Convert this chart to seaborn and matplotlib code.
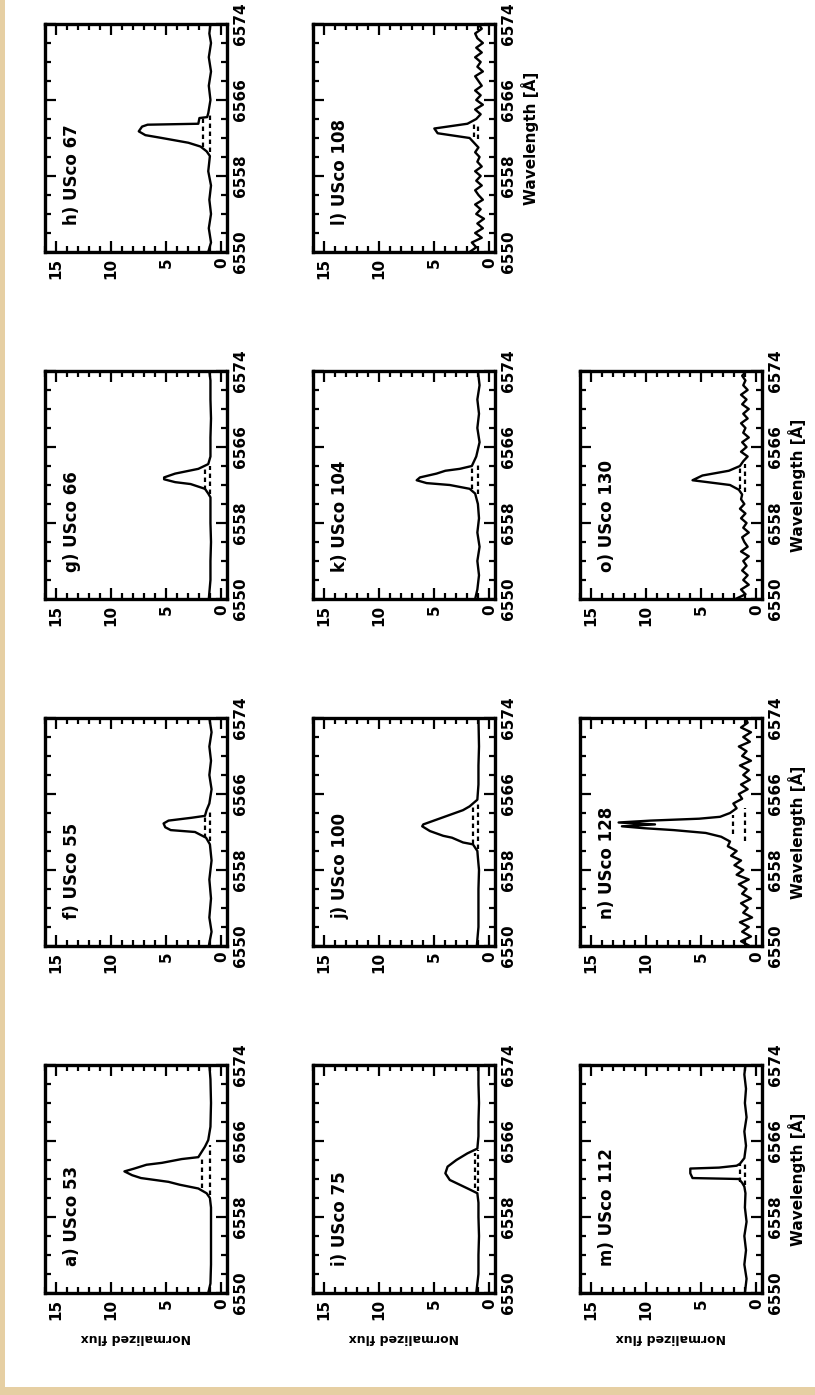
import numpy as np
import pandas as pd
import matplotlib
matplotlib.use("Agg")
import matplotlib.pyplot as plt
import seaborn as sns
from matplotlib.ticker import MultipleLocator, FixedLocator
from matplotlib.patches import Rectangle

sns.set_style("white")
plt.rcParams["font.family"] = ["DejaVu Sans"]
plt.rcParams["text.color"] = "black"
plt.rcParams["axes.labelcolor"] = "black"
plt.rcParams["xtick.color"] = "black"
plt.rcParams["ytick.color"] = "black"

# ---------------- data ----------------
wl_ticks = [6550, 6558, 6566, 6574]
flux_ticks = [0, 5, 10, 15]

labels = {
    "a": "a) USco 53", "f": "f) USco 55", "g": "g) USco 66", "h": "h) USco 67",
    "i": "i) USco 75", "j": "j) USco 100", "k": "k) USco 104", "l": "l) USco 108",
    "m": "m) USco 112", "n": "n) USco 128", "o": "o) USco 130",
}

wl_a = [6550.0, 6551.0, 6553.0, 6556.0, 6559.0, 6560.0, 6560.5, 6561.0, 6561.4, 6561.7, 6562.1, 6562.4,
        6562.8, 6563.1, 6563.5, 6563.7, 6564.1, 6564.3, 6565.4, 6566.1, 6567.5, 6570.0, 6572.5, 6574.0]
fl_a = [1.2, 1.0, 0.95, 0.95, 0.95, 1.05, 1.35, 2.1, 3.8, 4.8, 7.3, 8.1,
        8.8, 7.9, 6.8, 5.4, 3.6, 2.1, 1.5, 1.2, 1.0, 0.95, 1.0, 1.1]

wl_f = [6550.0, 6551.5, 6553.0, 6555.0, 6557.0, 6559.0, 6560.7, 6561.4, 6562.0, 6562.2, 6562.5, 6562.9,
        6563.2, 6563.5, 6563.7, 6564.3, 6565.0, 6566.5, 6568.0, 6569.5, 6571.0, 6572.5, 6574.0]
fl_f = [1.15, 0.9, 1.1, 0.95, 1.1, 0.9, 1.05, 1.4, 2.4, 4.6, 5.1, 5.25,
        4.8, 2.7, 1.5, 1.35, 1.1, 0.9, 1.1, 0.95, 1.1, 0.9, 1.1]

wl_g = [6550.0, 6552.0, 6554.0, 6556.0, 6558.0, 6560.0, 6560.7, 6561.1, 6561.6, 6562.1, 6562.3,
        6562.6, 6562.8, 6563.2, 6563.7, 6564.2, 6565.0, 6567.0, 6569.0, 6571.0, 6573.0, 6574.0]
fl_g = [1.15, 1.0, 1.0, 0.95, 1.0, 1.0, 1.0, 1.2, 1.5, 2.8, 4.2,
        5.2, 5.2, 4.2, 2.1, 1.2, 1.0, 1.0, 0.95, 1.0, 1.0, 1.1]

wl_h = [6550.0, 6551.0, 6552.5, 6554.0, 6555.5, 6557.0, 6558.5, 6560.1, 6560.6, 6561.1, 6561.5,
        6562.0, 6562.3, 6562.7, 6563.2, 6563.4, 6563.5, 6564.1, 6564.2, 6564.6, 6566.0, 6567.5,
        6569.0, 6570.5, 6572.0, 6573.0, 6574.0]
fl_h = [1.2, 0.95, 1.15, 0.95, 1.1, 0.95, 1.2, 1.05, 1.35, 1.9, 3.0,
        5.4, 6.9, 7.5, 7.2, 6.7, 2.1, 2.0, 1.3, 1.2, 1.0, 1.15,
        0.95, 1.15, 0.95, 1.1, 1.0]

wl_i = [6550.0, 6552.0, 6554.0, 6556.0, 6558.0, 6559.5, 6560.5, 6560.9, 6561.4, 6561.9,
        6562.6, 6563.3, 6564.0, 6564.7, 6565.2, 6566.5, 6568.0, 6570.0, 6572.0, 6574.0]
fl_i = [1.2, 1.0, 1.0, 0.95, 1.0, 1.0, 1.1, 1.8, 2.7, 3.6,
        4.0, 3.8, 3.0, 2.0, 1.1, 1.0, 1.0, 0.95, 1.0, 1.0]

wl_j = [6550.0, 6552.0, 6554.0, 6556.0, 6558.0, 6559.3, 6560.0, 6560.7, 6560.9, 6561.4, 6561.6,
        6562.1, 6562.6, 6562.8, 6563.3, 6563.8, 6564.3, 6564.7, 6565.4, 6567.0, 6569.0, 6571.0, 6574.0]
fl_j = [1.15, 1.0, 1.0, 1.0, 0.95, 1.05, 1.1, 1.5, 2.4, 3.4, 4.2,
        5.4, 6.1, 6.0, 4.8, 3.6, 2.4, 1.8, 1.1, 1.0, 1.0, 0.95, 1.0]

wl_k = [6550.0, 6551.0, 6552.5, 6554.0, 6555.5, 6557.0, 6558.5, 6560.0, 6561.1, 6561.6, 6562.0,
        6562.2, 6562.5, 6562.8, 6563.2, 6563.5, 6563.7, 6564.0, 6565.0, 6566.5, 6568.0, 6569.5,
        6571.0, 6572.5, 6574.0]
fl_k = [1.3, 1.1, 0.95, 1.1, 0.9, 1.1, 0.95, 1.05, 1.3, 1.8, 3.6,
        5.7, 6.6, 6.3, 4.8, 4.0, 2.7, 1.6, 1.2, 0.9, 1.1, 0.95,
        1.1, 0.9, 1.05]

wl_m = [6550.0, 6551.5, 6553.0, 6554.5, 6556.0, 6557.5, 6559.0, 6560.5, 6561.2, 6561.6, 6562.0,
        6562.1, 6562.6, 6563.1, 6563.2, 6563.4, 6563.6, 6564.2, 6565.5, 6567.0, 6568.5, 6570.0,
        6571.5, 6573.0, 6574.0]
fl_m = [1.05, 0.9, 1.1, 0.95, 1.1, 0.9, 1.05, 1.0, 1.1, 1.3, 1.6,
        5.8, 6.0, 6.0, 3.4, 1.8, 1.5, 1.1, 0.95, 1.1, 0.9, 1.05,
        0.95, 1.1, 1.0]

wl_grid = [6550.0, 6550.5, 6551.0, 6551.5, 6552.0, 6552.5, 6553.0, 6553.5, 6554.0, 6554.5,
           6555.0, 6555.5, 6556.0, 6556.5, 6557.0, 6557.5, 6558.0, 6558.5, 6559.0, 6559.5,
           6560.0, 6560.5, 6561.0, 6561.5, 6562.0, 6562.5, 6563.0, 6563.5, 6564.0, 6564.5,
           6565.0, 6565.5, 6566.0, 6566.5, 6567.0, 6567.5, 6568.0, 6568.5, 6569.0, 6569.5,
           6570.0, 6570.5, 6571.0, 6571.5, 6572.0, 6572.5, 6573.0, 6573.5, 6574.0]
fl_l = [1.8, 1.2, 1.6, 0.7, 1.3, 0.6, 1.1, 0.5, 1.2, 0.8, 1.3, 0.6, 1.0, 1.3, 0.7, 1.2,
        0.8, 1.3, 0.7, 1.1, 0.9, 1.3, 1.0, 1.4,
        1.8, 4.7, 5.0, 2.0, 1.2,
        0.8, 1.3, 0.6, 1.2, 0.8, 1.3, 0.7, 1.0, 1.3, 0.6, 1.1, 0.8, 1.3, 0.7, 1.2, 0.6,
        1.1, 1.3, 0.7, 1.0]
fl_o = [1.9, 1.0, 1.4, 0.7, 1.2, 0.8, 1.3, 0.9, 1.2, 0.7, 1.4, 0.8, 1.1, 1.3, 0.7, 1.2,
        0.9, 1.4, 1.0, 1.5, 1.1, 1.4, 1.3,
        1.6, 2.4, 5.8, 4.9, 2.5, 1.5,
        1.2, 0.8, 1.4, 0.9, 1.3, 0.7, 1.2, 1.0, 1.4, 0.8, 1.2, 0.7, 1.3, 0.9, 1.4, 0.8,
        1.2, 1.0, 1.3, 0.9]

wl_n = [6550.0, 6550.5, 6551.0, 6551.5, 6552.0, 6552.5, 6553.0, 6553.5, 6554.0, 6554.5,
        6555.0, 6555.5, 6556.0, 6556.5, 6557.0, 6557.5, 6558.0, 6558.5, 6559.0, 6559.5,
        6560.0, 6560.5, 6561.0, 6561.5,
        6561.9, 6562.2, 6562.4, 6562.6, 6562.8, 6563.0, 6563.2, 6563.4, 6563.6,
        6564.0, 6564.5, 6565.0, 6565.5, 6566.0, 6566.5, 6567.0, 6567.5, 6568.0, 6568.5,
        6569.0, 6569.5, 6570.0, 6570.5, 6571.0, 6571.5, 6572.0, 6572.5, 6573.0, 6573.5, 6574.0]
fl_n = [0.6, 1.4, 0.5, 1.3, 0.7, 1.5, 0.4, 1.2, 0.8, 1.4,
        0.5, 1.3, 0.9, 1.6, 0.7, 1.8, 1.2, 2.0, 1.4, 2.3,
        1.8, 2.6, 2.4, 3.2,
        4.6, 7.5, 10.2, 12.2, 9.2, 12.5, 9.6, 5.2, 3.3,
        2.4, 1.8, 2.1, 1.3, 1.6, 0.8, 1.4, 0.6, 1.2, 0.7,
        1.5, 0.5, 1.3, 0.9, 1.6, 0.6, 1.2, 0.5, 1.4, 0.8, 1.0]

spectra = {
    "a": (wl_a, fl_a), "f": (wl_f, fl_f), "g": (wl_g, fl_g), "h": (wl_h, fl_h),
    "i": (wl_i, fl_i), "j": (wl_j, fl_j), "k": (wl_k, fl_k), "l": (wl_grid, fl_l),
    "m": (wl_m, fl_m), "n": (wl_n, fl_n), "o": (wl_grid, fl_o),
}

# dashed measurement levels: (flux level, wavelength from, wavelength to)
dashes = {
    "a": [(1.0, 6560.3, 6565.6), (1.8, 6561.0, 6564.3)],
    "f": [(1.0, 6561.0, 6564.3), (1.45, 6561.4, 6563.8)],
    "g": [(1.0, 6561.0, 6564.0), (1.45, 6561.5, 6563.7)],
    "h": [(1.0, 6560.5, 6564.5), (1.65, 6561.0, 6564.1)],
    "i": [(1.0, 6560.7, 6565.0), (1.3, 6561.0, 6564.7)],
    "j": [(1.0, 6560.2, 6565.2), (1.5, 6560.7, 6564.7)],
    "k": [(1.0, 6561.0, 6564.3), (1.55, 6561.6, 6564.0)],
    "l": [(1.0, 6561.9, 6563.6), (1.4, 6562.1, 6563.5)],
    "m": [(1.0, 6561.4, 6563.9), (1.5, 6561.7, 6563.6)],
    "n": [(1.0, 6561.0, 6564.5), (2.1, 6561.8, 6563.8)],
    "o": [(1.0, 6561.3, 6564.2), (1.5, 6561.6, 6563.9)],
}

for key, (w, f) in spectra.items():
    assert len(w) == len(f), key

# ---------------- layout (page is rotated 90 degrees) ----------------
W, H = 815, 1395
fig = plt.figure(figsize=(W / 100, H / 100), dpi=100, facecolor="white")

beige = "#E6CFA3"
fig.patches.append(Rectangle((0, 0), 5 / W, 1, transform=fig.transFigure,
                             facecolor=beige, edgecolor="none", zorder=-10))
fig.patches.append(Rectangle((0, 0), 1, 8 / H, transform=fig.transFigure,
                             facecolor=beige, edgecolor="none", zorder=-10))

col_left = [45, 313, 580]
row_top = [24, 371, 718, 1065]
bw, bh = 182, 228
placement = {
    "h": (0, 0), "g": (0, 1), "f": (0, 2), "a": (0, 3),
    "l": (1, 0), "k": (1, 1), "j": (1, 2), "i": (1, 3),
    "o": (2, 1), "n": (2, 2), "m": (2, 3),
}
bottom_row = {"a", "i", "m"}
wave_label = {"l", "o", "n", "m"}

tick_font = dict(fontsize=11, fontweight="bold", color="black")

for key, (c, r) in placement.items():
    x0 = col_left[c] / W
    y0 = 1 - (row_top[r] + bh) / H
    ax = fig.add_axes([x0, y0, bw / W, bh / H])
    w, f = spectra[key]
    df = pd.DataFrame({"flux": f, "wavelength": w})
    sns.lineplot(data=df, x="flux", y="wavelength", orient="y", sort=False,
                 estimator=None, color="black", linewidth=1.7, ax=ax)
    for lvl, w0, w1 in dashes[key]:
        ax.plot([lvl, lvl], [w0, w1], color="black", lw=1.6, ls=(0, (2, 1.6)))

    ax.set_xlim(16.0, -0.5)
    ax.set_ylim(6550, 6574)
    ax.xaxis.set_major_locator(FixedLocator(flux_ticks))
    ax.xaxis.set_minor_locator(MultipleLocator(1))
    ax.yaxis.set_major_locator(FixedLocator(wl_ticks))
    ax.yaxis.set_minor_locator(MultipleLocator(2))
    ax.set_xticklabels([str(t) for t in flux_ticks], rotation=90, **tick_font)
    ax.set_yticklabels([str(t) for t in wl_ticks], rotation=90, va="center", **tick_font)
    ax.tick_params(which="both", direction="in", top=True, bottom=True, left=True, right=True,
                   labelbottom=True, labeltop=False, labelleft=False, labelright=True,
                   width=1.6, color="black")
    ax.tick_params(which="major", length=8, pad=4)
    ax.tick_params(which="minor", length=4)
    for s in ax.spines.values():
        s.set_visible(True)
        s.set_linewidth(2.4)
        s.set_color("black")

    ax.text(0.10, 0.12, labels[key], transform=ax.transAxes, rotation=90,
            ha="left", va="bottom", fontsize=12, fontweight="bold", color="black")

    if key in bottom_row:
        ax.set_xlabel("Normalized flux", rotation=180, fontsize=9, fontweight="bold",
                      labelpad=8, color="black")
    else:
        ax.set_xlabel("")
    ax.yaxis.set_label_position("right")
    if key in wave_label:
        ax.set_ylabel("Wavelength [Å]", rotation=90, fontsize=11, fontweight="bold",
                      labelpad=4, color="black")
    else:
        ax.set_ylabel("")

fig.savefig("out.png", dpi=100, facecolor="white")
